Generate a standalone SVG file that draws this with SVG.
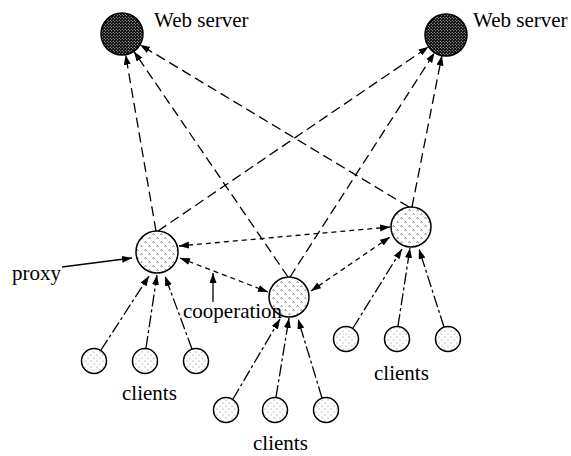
<svg xmlns="http://www.w3.org/2000/svg" width="571" height="456" viewBox="0 0 571 456">
<style>
.lbl{font-family:"Liberation Serif","Times New Roman",serif;font-size:21px;fill:#000}
.node{stroke:#000;stroke-width:1.5}
.ws{fill:url(#pws)}
.px{fill:url(#ppx)}
.cl{fill:url(#pcl)}
.long{stroke:#000;stroke-width:1.3;fill:none;stroke-dasharray:10,5;marker-end:url(#ah)}
.coop{stroke:#000;stroke-width:1.3;fill:none;stroke-dasharray:5,4;marker-start:url(#ah);marker-end:url(#ah)}
.dd{stroke:#000;stroke-width:1.3;fill:none;stroke-dasharray:12,3,3,3;marker-end:url(#ah)}
.solid{stroke:#000;stroke-width:1.3;fill:none;marker-end:url(#ah)}
</style>
<defs>
<marker id="ah" markerUnits="userSpaceOnUse" markerWidth="11" markerHeight="8" refX="10" refY="3.5" orient="auto-start-reverse">
<path d="M0,0 L10,3.5 L0,7 z" fill="#000"/>
</marker>
<pattern id="pws" patternUnits="userSpaceOnUse" width="3" height="3">
<rect width="3" height="3" fill="#000"/>
<circle cx="0.75" cy="0.75" r="0.55" fill="#fff"/>
<circle cx="2.25" cy="2.25" r="0.55" fill="#fff"/>
</pattern>
<pattern id="ppx" patternUnits="userSpaceOnUse" width="8" height="8">
<rect width="8" height="8" fill="#fff"/>
<path d="M0.6,2.8 L1.5,1.5 L2.4,2.8 M4.6,6.8 L5.5,5.5 L6.4,6.8" stroke="#444" stroke-width="0.7" fill="none"/>
</pattern>
<pattern id="pcl" patternUnits="userSpaceOnUse" width="6" height="6">
<rect width="6" height="6" fill="#fff"/>
<circle cx="1" cy="1" r="0.5" fill="#666"/>
<circle cx="4" cy="4" r="0.5" fill="#666"/>
</pattern>
</defs>

<g id="connectors">
<line class="long" x1="156" y1="231" x2="125.6" y2="54.7"/>
<line class="long" x1="288" y1="277" x2="133.9" y2="51.4"/>
<line class="long" x1="409" y1="207" x2="140" y2="44.8"/>
<line class="long" x1="158" y1="231" x2="428.6" y2="46.8"/>
<line class="long" x1="290" y1="277" x2="434.6" y2="52.6"/>
<line class="long" x1="412" y1="207" x2="441.9" y2="55.6"/>
<line class="coop" x1="179" y1="246" x2="390" y2="227"/>
<line class="coop" x1="180" y1="258" x2="268" y2="292"/>
<line class="coop" x1="311" y1="291" x2="390" y2="237"/>
<line class="dd" x1="101" y1="350" x2="149" y2="276"/>
<line class="dd" x1="146" y1="348" x2="157" y2="275"/>
<line class="dd" x1="192" y1="349" x2="165" y2="276"/>
<line class="dd" x1="233" y1="399" x2="280" y2="319"/>
<line class="dd" x1="276" y1="397" x2="289" y2="318"/>
<line class="dd" x1="322" y1="398" x2="298" y2="319"/>
<line class="dd" x1="353" y1="328" x2="402" y2="249"/>
<line class="dd" x1="398" y1="326" x2="410" y2="248"/>
<line class="dd" x1="444" y1="327" x2="419" y2="249"/>
<line class="solid" x1="62" y1="267" x2="132" y2="258"/>
<line class="solid" x1="213" y1="302" x2="213" y2="273"/>
</g>

<g id="ws1"><circle class="node ws" cx="122" cy="34" r="21"/><text class="lbl" x="154" y="27">Web server</text></g>
<g id="ws2"><circle class="node ws" cx="446" cy="35" r="21"/><text class="lbl" x="473" y="27">Web server</text></g>
<g id="proxy1"><circle class="node px" cx="157" cy="252" r="21"/></g>
<g id="proxy2"><circle class="node px" cx="289" cy="297" r="20"/></g>
<g id="proxy3"><circle class="node px" cx="411" cy="227" r="20"/></g>
<g id="proxy-label"><text class="lbl" x="12" y="280">proxy</text></g>
<g id="coop-label"><text class="lbl" x="183" y="318">cooperation</text></g>
<g id="clients1">
<circle class="node cl" cx="94" cy="361" r="12.5"/>
<circle class="node cl" cx="145" cy="361" r="12.5"/>
<circle class="node cl" cx="196" cy="361" r="12.5"/>
<text class="lbl" x="122" y="400">clients</text>
</g>
<g id="clients2">
<circle class="node cl" cx="226" cy="410" r="12.5"/>
<circle class="node cl" cx="275" cy="410" r="12.5"/>
<circle class="node cl" cx="326" cy="410" r="12.5"/>
<text class="lbl" x="253" y="450">clients</text>
</g>
<g id="clients3">
<circle class="node cl" cx="346" cy="339" r="12.5"/>
<circle class="node cl" cx="397" cy="339" r="12.5"/>
<circle class="node cl" cx="448" cy="339" r="12.5"/>
<text class="lbl" x="374" y="380">clients</text>
</g>
</svg>
